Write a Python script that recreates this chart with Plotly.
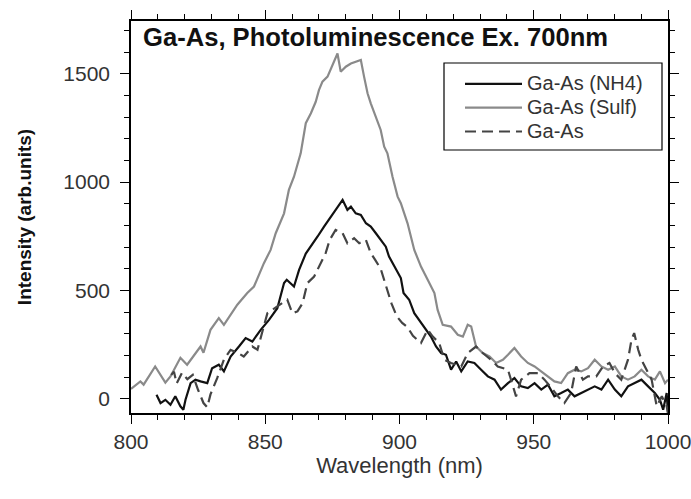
import plotly.graph_objects as go

# ---------------- data ----------------
wl_nh4 = [809.5, 811, 812.8, 814.7, 816.5, 818.4, 819.5, 820.3, 822.2, 824, 825.9, 828.4,
          830.2, 832.7, 834.6, 837.1, 840.2, 842.7, 845.2, 848.3, 851.4, 854.5, 857, 858,
          860.7, 862.6, 865.1, 867, 869.5, 871.9, 874.4, 876.9, 878.8, 880.6, 881.9, 883.7,
          885.6, 887.5, 889.3, 891.2, 893, 894.9, 896.1, 900.5, 901.5, 903.6, 905.5, 907.3,
          909.8, 911.7, 913.6, 915.5, 917.3, 919.2, 921.1, 923, 925.4, 927.9, 930.4, 932.9,
          935.4, 937.8, 940.4, 942.8, 945.3, 947.8, 950.3, 952.8, 955.3, 957.7, 960.2, 962.7,
          965.2, 967.7, 970.2, 972.7, 975.2, 977.7, 980.2, 982.6, 985.1, 987.6, 990.1, 992.6,
          995.1, 997, 998.2, 999.5, 1000]
int_nh4 = [18, -20, -5, -28, 11, -35, -51, -5, 72, 88, 80, 72,
           141, 157, 126, 195, 241, 280, 264, 318, 364, 418, 534, 549,
           518, 595, 670, 702, 749, 795, 841, 887, 918, 872, 887, 856,
           849, 810, 795, 764, 733, 702, 656, 557, 488, 457, 395, 364,
           318, 287, 241, 211, 203, 134, 172, 126, 172, 165, 134, 103,
           88, 42, 72, 95, 57, 49, 72, 42, 65, 11, 26, 42,
           11, 26, 42, 57, 42, 88, 42, 11, 57, 72, 88, 57,
           26, -5, -51, 26, -66]

wl_sulf = [800, 800.4, 803.5, 804.7, 809, 812.8, 814.7, 818.4, 820.9, 825.9, 827, 829.6,
           832.7, 834.6, 839.6, 843.3, 845.8, 849.5, 852, 853.9, 857, 858.8, 860.7, 863.2,
           865.1, 867, 868.8, 870, 871.3, 873.2, 875, 876.9, 878.1, 880, 881.9, 883.7,
           885.6, 886.8, 888.1, 889.3, 891.2, 893, 894.3, 895.5, 897.4, 899.3, 900.5, 903,
           905.5, 908, 910.5, 913, 914.2, 916.1, 919.2, 921.7, 923.6, 925.4, 926.7, 928.5,
           931, 933.5, 936, 938.5, 940.4, 942.8, 945.3, 947.8, 950.3, 952.8, 955.3, 957.7,
           960.2, 962.7, 965.2, 967.7, 970.2, 972.7, 975.2, 977.7, 980.2, 982.6, 985.1, 987.6,
           990.1, 992.6, 995.1, 997, 998.9, 1000]
int_sulf = [45, 49, 80, 65, 149, 74, 103, 189, 157, 241, 212, 318,
            372, 341, 434, 488, 518, 626, 687, 764, 856, 964, 1025, 1133,
            1272, 1318, 1371, 1425, 1464, 1487, 1541, 1594, 1510, 1533, 1548, 1556,
            1564, 1487, 1410, 1364, 1302, 1241, 1164, 1133, 1025, 933, 903, 810,
            687, 610, 549, 488, 410, 341, 333, 295, 287, 341, 333, 241,
            211, 195, 165, 180, 203, 234, 195, 165, 149, 126, 103, 80,
            72, 118, 134, 126, 141, 180, 149, 134, 149, 103, 88, 103,
            134, 103, 88, 126, 72, 88]

wl_gaas = [815, 816, 817, 819, 821, 823, 825, 825.9, 827, 828.4, 829.6, 832.1,
           834.6, 837.1, 840, 842, 845.2, 847.1, 850.8, 854.5, 858.2, 860.1, 862, 863.9,
           865.7, 868.2, 870.7, 872.5, 874, 876.2, 878.8, 880.6, 883.1, 885, 887.5, 889.3,
           891, 893, 895, 897, 899, 901, 903, 905, 908, 910.5, 912.4, 914.8,
           916.7, 919.2, 923, 925.4, 928.5, 931, 934.1, 936.6, 940.4, 943.4, 945.3, 948.4,
           951.5, 954, 957.1, 959, 961.4, 963.9, 965.8, 968.3, 970.2, 973.3, 975.8, 978.2,
           980.2, 982.6, 985.1, 986.4, 987.4, 988.9, 990.1, 992, 993.9, 995.8, 997.7, 999.5,
           1000]
int_gaas = [110, 125, 70, 120, 90, 110, 40, 11, -20, -40, 20, 95,
            180, 226, 210, 195, 241, 226, 395, 426, 457, 395, 403, 441,
            534, 564, 626, 672, 733, 779, 764, 718, 741, 718, 733, 672,
            640, 600, 520, 440, 380, 350, 330, 290, 257, 318, 287, 257,
            180, 165, 149, 211, 241, 211, 180, 149, 134, 11, 88, 118,
            118, 88, 42, 11, -20, 26, 149, 88, 103, 103, 149, 165,
            118, 88, 180, 272, 303, 226, 180, 134, 88, -35, 11, -35,
            -66]

series_names = ["Ga-As (NH4)", "Ga-As (Sulf)", "Ga-As"]

title_text = "Ga-As, Photoluminescence Ex. 700nm"
x_title = "Wavelength (nm)"
y_title = "Intensity (arb.units)"
x_ticks = [800, 850, 900, 950, 1000]
y_ticks = [0, 500, 1000, 1500]

FONT = "Liberation Sans, Arial, sans-serif"

# plot area in px (for paper-coordinate placement of the legend frame)
W, H = 691, 499
ML, MR, MT, MB = 131, 23, 21, 86
PW, PH = W - ML - MR, H - MT - MB


def px_x(p):
    return (p - ML) / PW


def px_y(p):
    return (H - MB - p) / PH


def legend_label(s):
    return '<span style="font-size:20px">' + s + '</span>'


fig = go.Figure()
fig.add_trace(go.Scatter(x=wl_nh4, y=int_nh4, mode="lines", name=legend_label(series_names[0]),
                         line=dict(color="#111111", width=2.2)))
fig.add_trace(go.Scatter(x=wl_sulf, y=int_sulf, mode="lines", name=legend_label(series_names[1]),
                         line=dict(color="#8a8a8a", width=2.2)))
fig.add_trace(go.Scatter(x=wl_gaas, y=int_gaas, mode="lines", name=legend_label(series_names[2]),
                         line=dict(color="#444444", width=2.2, dash="11px,6px")))

axis_common = dict(
    showline=True, linecolor="black", linewidth=1.5, mirror="allticks",
    ticks="outside", ticklen=9, tickwidth=1.2, tickcolor="black",
    showgrid=False, zeroline=False, automargin=False, ticklabeloverflow="allow",
    tickfont=dict(family=FONT, size=21, color="#333333"),
)

fig.update_xaxes(range=[800, 1000], tickvals=x_ticks,
                 minor=dict(dtick=10, tick0=800, ticks="outside", ticklen=5,
                            tickcolor="black", tickwidth=1),
                 title=dict(text=x_title, font=dict(family=FONT, size=22, color="#333333"),
                            standoff=0),
                 **axis_common)
fig.update_yaxes(range=[-66, 1744], tickvals=y_ticks, ticklabelstandoff=6,
                 minor=dict(dtick=100, tick0=0, ticks="outside", ticklen=5,
                            tickcolor="black", tickwidth=1),
                 title=dict(text="<b>" + y_title + "</b>",
                            font=dict(family=FONT, size=19, color="#111111"),
                            standoff=27),
                 **axis_common)

fig.add_annotation(text="<b>" + title_text + "</b>", xref="paper", yref="paper",
                   x=px_x(141), y=1.0, xanchor="left", yanchor="top", showarrow=False,
                   font=dict(family=FONT, size=25.6, color="#111111"))

# legend frame
fig.add_shape(type="rect", xref="paper", yref="paper",
              x0=px_x(444), x1=px_x(662), y0=px_y(150), y1=px_y(63),
              line=dict(color="black", width=1.2), fillcolor="white", layer="above")

fig.update_layout(
    width=W, height=H,
    margin=dict(l=ML, r=MR, t=MT, b=MB),
    paper_bgcolor="white", plot_bgcolor="white",
    showlegend=True,
    legend=dict(x=px_x(460), y=px_y(67), xanchor="left", yanchor="top",
                bgcolor="rgba(0,0,0,0)", borderwidth=0,
                font=dict(family=FONT, size=16, color="#333333"),
                itemwidth=57, tracegroupgap=0),
)

fig.write_html("out.html")
